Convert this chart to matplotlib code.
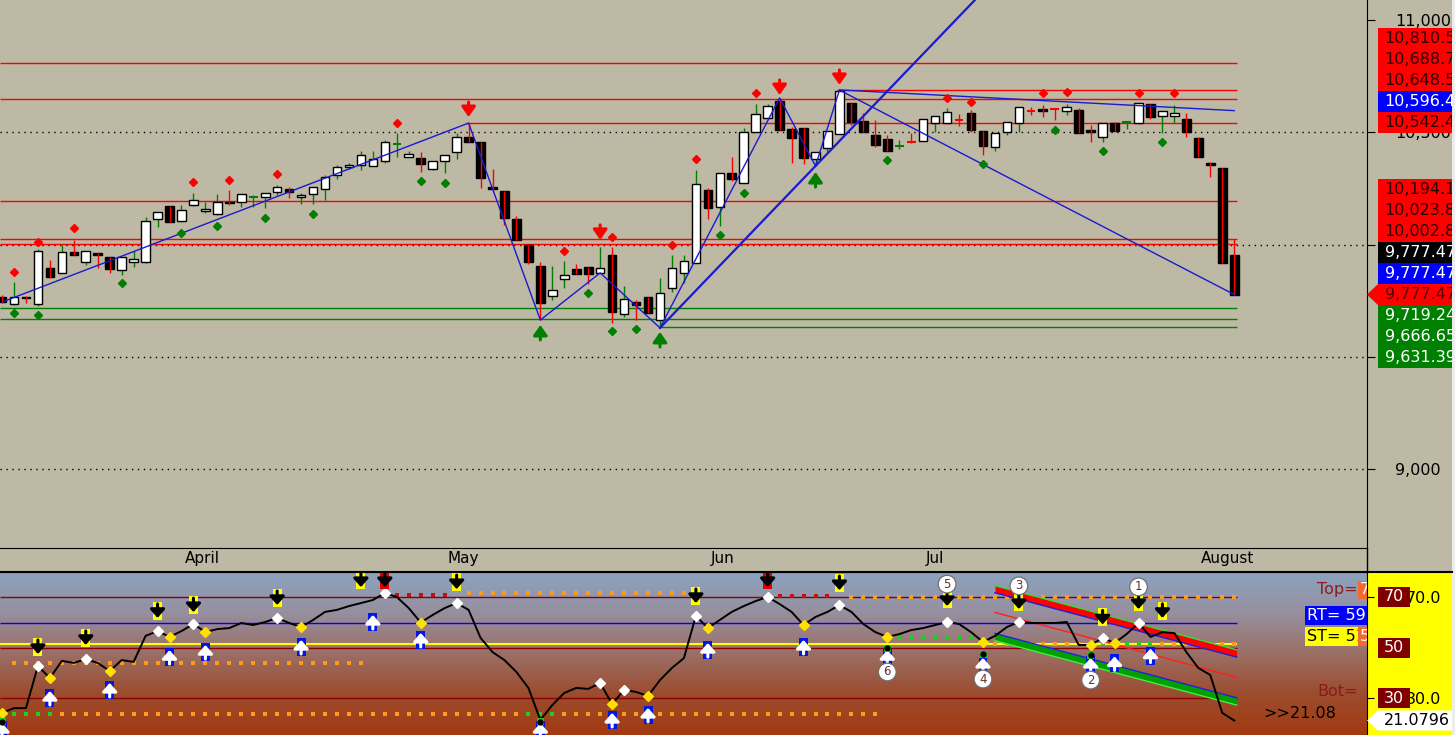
import numpy as np
import matplotlib.pyplot as plt
from matplotlib.patches import Rectangle, Polygon
from matplotlib.lines import Line2D
from matplotlib.colors import LinearSegmentedColormap

plt.rcParams['font.family'] = ['DejaVu Sans']

# daily candles, one per trading day
opens = [9767, 9735, 9767, 9735, 9896, 9874, 9967, 9923, 9963, 9945,
         9887, 9923, 9923, 10114, 10172, 10105, 10176, 10150, 10136, 10190,
         10190, 10210, 10212, 10234, 10248, 10212, 10225, 10248, 10310, 10346,
         10354, 10350, 10372, 10446, 10390, 10386, 10337, 10372, 10412, 10479,
         10457, 10256, 10239, 10114, 9998, 9905, 9771, 9847, 9891, 9900,
         9874, 9954, 9691, 9744, 9767, 9664, 9807, 9874, 9918, 10243,
         10167, 10319, 10274, 10501, 10564, 10639, 10515, 10519, 10381, 10430,
         10492, 10630, 10550, 10488, 10470, 10439, 10457, 10461, 10541, 10541,
         10555, 10586, 10506, 10435, 10501, 10541, 10595, 10604, 10604, 10595,
         10599, 10510, 10479, 10541, 10544, 10541, 10626, 10573, 10573, 10559,
         10475, 10363, 10341, 9954]
highs = [9776, 9834, 9771, 9980, 9932, 9998, 10021, 9972, 9963, 9945,
         9945, 9972, 10123, 10145, 10172, 10176, 10230, 10190, 10225, 10243,
         10225, 10221, 10230, 10265, 10256, 10230, 10256, 10310, 10354, 10363,
         10417, 10417, 10466, 10497, 10417, 10412, 10372, 10399, 10497, 10541,
         10457, 10337, 10239, 10127, 9998, 9923, 9905, 9927, 9914, 9900,
         9989, 9989, 9816, 9753, 9767, 9851, 9954, 9954, 10332, 10252,
         10319, 10390, 10519, 10626, 10626, 10653, 10524, 10519, 10412, 10506,
         10688, 10630, 10586, 10555, 10488, 10466, 10497, 10559, 10573, 10608,
         10581, 10599, 10506, 10497, 10546, 10613, 10613, 10622, 10604, 10626,
         10608, 10533, 10541, 10546, 10550, 10630, 10626, 10595, 10622, 10586,
         10479, 10368, 10341, 10025]
lows = [9740, 9731, 9740, 9727, 9851, 9874, 9954, 9909, 9896, 9874,
        9865, 9900, 9918, 10078, 10101, 10101, 10172, 10141, 10132, 10176,
        10167, 10167, 10163, 10221, 10208, 10181, 10181, 10199, 10292, 10337,
        10332, 10350, 10363, 10390, 10390, 10323, 10332, 10319, 10381, 10457,
        10252, 10243, 10087, 10021, 9914, 9664, 9753, 9807, 9869, 9825,
        9874, 9651, 9678, 9664, 9695, 9629, 9789, 9829, 9918, 10114,
        10083, 10283, 10274, 10501, 10564, 10510, 10363, 10359, 10350, 10412,
        10492, 10533, 10501, 10435, 10417, 10426, 10452, 10461, 10501, 10541,
        10528, 10501, 10399, 10417, 10488, 10501, 10577, 10568, 10555, 10577,
        10497, 10457, 10457, 10506, 10515, 10541, 10559, 10497, 10541, 10479,
        10390, 10301, 9918, 9777.47]
closes = [9744, 9767, 9760, 9972, 9856, 9967, 9954, 9972, 9954, 9891,
          9945, 9936, 10105, 10145, 10101, 10154, 10199, 10159, 10190, 10185,
          10225, 10214, 10230, 10256, 10234, 10221, 10256, 10301, 10346, 10354,
          10399, 10381, 10457, 10450, 10403, 10359, 10372, 10399, 10479, 10457,
          10297, 10248, 10118, 10021, 9923, 9740, 9798, 9865, 9869, 9869,
          9896, 9700, 9758, 9731, 9695, 9785, 9896, 9927, 10270, 10163,
          10319, 10292, 10501, 10581, 10617, 10510, 10475, 10386, 10412, 10506,
          10684, 10546, 10501, 10443, 10417, 10441, 10455, 10559, 10573, 10590,
          10553, 10510, 10439, 10497, 10546, 10613, 10593, 10595, 10602, 10613,
          10497, 10501, 10541, 10506, 10546, 10630, 10568, 10595, 10586, 10501,
          10390, 10354, 9918, 9777.47]

month_names = ['April', 'May', 'Jun', 'Jul', 'August']
month_start = [15, 37, 59, 77, 100]

# zigzag + trend lines
zig_idx = [0, 39, 45, 50, 55, 65, 68, 70, 103]
zig_val = [9744, 10541, 9664, 9874, 9629, 10653, 10350, 10688, 9777.47]
trend_idx = [55, 68]
trend_val = [9629, 10350]
flat_idx = [70, 103]
flat_val = [10688.7, 10596.4]

# support / resistance levels and the bar where each starts
res_levels = [10810.5, 10688.7, 10648.5, 10542.4, 10194.1, 10023.8, 10002.8]
res_from = [0, 70, 0, 39, 0, 0, 0]
sup_levels = [9719.24, 9666.65, 9631.39]
sup_from = [0, 0, 55]

# fractal dots
top_dot_idx = [1, 3, 6, 16, 19, 23, 33, 47, 51, 56, 58, 63, 79, 81, 87, 89, 95, 98]
top_dot_val = [9878, 10012, 10074, 10279, 10288, 10314, 10541, 9972, 10034, 9998,
               10381, 10675, 10653, 10635, 10675, 10679, 10675, 10675]
bot_dot_idx = [1, 3, 10, 15, 18, 22, 26, 35, 37, 49, 51, 53, 60, 62, 74, 82, 88, 92, 97]
bot_dot_val = [9695, 9687, 9829, 10052, 10083, 10118, 10136, 10283, 10274, 9785,
               9615, 9624, 10043, 10230, 10377, 10359, 10510, 10417, 10457]

# pivot arrows (tip prices)
dn_idx = [39, 50, 65, 70]
dn_tip = [10568, 10021, 10666, 10711]
up_idx = [45, 55, 68]
up_tip = [9642, 9611, 10323]

# right-hand price tags
tags_hi = ['10,810.5', '10,688.7', '10,648.5', '10,596.4', '10,542.4']
tags_hi_col = ['red', 'red', 'red', 'blue', 'red']
tags_lo = ['10,194.1', '10,023.8', '10,002.8', '9,777.47', '9,777.47', '9,777.47',
           '9,719.24', '9,666.65', '9,631.39']
tags_lo_col = ['red', 'red', 'red', 'black', 'blue', 'last', 'green', 'green', 'green']

# oscillator
rsi = [24.1, 26.0, 26.0, 42.7, 37.9, 44.7, 43.9, 45.4, 43.9, 40.7,
       45.0, 44.3, 54.6, 56.5, 54.2, 56.5, 59.3, 56.1, 57.3, 57.7,
       59.7, 58.9, 60.1, 61.7, 59.7, 58.1, 60.9, 64.1, 64.9, 66.4,
       67.6, 68.8, 71.6, 70.0, 65.6, 59.9, 62.9, 65.6, 67.6, 64.9,
       53.8, 48.2, 45.0, 40.3, 34.0, 21.3, 27.2, 32.0, 34.0, 33.6,
       35.9, 27.6, 33.2, 32.4, 30.8, 37.1, 41.9, 45.8, 62.5, 57.7,
       60.9, 64.1, 66.4, 68.4, 70.0, 67.2, 64.1, 58.9, 62.1, 64.1,
       66.8, 64.1, 59.3, 56.1, 54.2, 55.3, 56.9, 57.7, 58.9, 60.1,
       59.3, 56.1, 52.2, 54.6, 58.1, 60.1, 59.7, 59.7, 59.7, 60.1,
       51.0, 51.0, 53.8, 51.8, 55.3, 59.7, 54.2, 56.1, 55.7, 48.2,
       41.9, 39.1, 24.1, 21.0796]
rt_level = 59.7
st_level = 51.4
peak_idx = [3, 7, 13, 16, 23, 32, 38, 50, 52, 58, 64, 70, 79, 85, 92, 95]
trough_idx = [0, 4, 9, 14, 17, 25, 35, 51, 54, 59, 67, 74, 82, 91, 93]
sell_idx = [3, 7, 13, 16, 23, 30, 32, 38, 58, 64, 70, 79, 85, 92, 95, 97]
sell_val = [50.2, 53.8, 64.5, 66.8, 69.6, 76.7, 76.7, 75.9, 70.4, 76.7, 75.5, 69.2, 68.0, 61.9, 68.0, 64.5]
sell_alert = [32, 64]
buy_idx = [0, 4, 9, 14, 17, 25, 31, 35, 45, 51, 54, 59, 67, 74, 82, 91, 93, 96]
buy_val = [17.3, 30.0, 33.2, 46.2, 48.2, 50.2, 60.1, 53.0, 17.3, 21.3, 23.3, 49.0, 50.2, 46.2, 43.1, 43.1, 43.7, 46.8]
conf_idx = [0, 45, 74, 82, 91]
conf_val = [20.5, 20.5, 49.8, 47.4, 47.0]
wave_lbl = ['5', '3', '1', '6', '4', '2']
wave_idx = [79, 85, 95, 74, 82, 91]
wave_val = [75.1, 74.4, 74.0, 40.3, 37.5, 37.1]
chan_idx = [83, 103.2]
red_band_top = [74.5, 49.1]
red_band_bot = [71.7, 46.2]
red_mid = [63.9, 38.2]
grn_band_top = [55.6, 30.1]
grn_band_bot = [52.7, 27.2]
dot_runs = [(1, 30, 44.0, '#FF9A1A'), (0, 4, 23.7, '#22CC22'), (5, 73, 23.7, '#FF9A1A'),
            (44, 46, 23.7, '#22CC22'), (33, 37, 70.6, '#C01010'), (39, 57, 71.5, '#FF9A1A'),
            (65, 69, 70.2, '#C01010'), (71, 103, 70.0, '#FF9A1A'), (75, 81, 53.9, '#22CC22'),
            (82, 103, 51.2, '#FF9A1A'), (91, 96, 51.2, '#22CC22')]

# ---------------- layout ----------------
W, H = 1455, 735
BG = '#BDB9A5'
fig = plt.figure(figsize=(W / 100, H / 100), dpi=100, facecolor=BG)


def px_axes(l, t, r, b):
    return fig.add_axes([l / W, 1 - b / H, (r - l) / W, (b - t) / H])


ax = px_axes(0, 0, 1367, 548)
ax_lab = px_axes(1367, 0, 1452, 548)
ax2 = px_axes(0, 572, 1367, 735)
ax2_lab = px_axes(1367, 572, 1452, 735)

xlo, xhi = -0.17, 114.1
ylo, yhi = 8649, 11089
ppx = (yhi - ylo) / 548.0
vlo, vhi = 15.35, 79.9
vpx = (vhi - vlo) / 163.0

fig.add_artist(Rectangle((1367 / W, 0), 85 / W, 163 / H, transform=fig.transFigure,
                         fc='#FFFF00', ec='none', zorder=-1))
fig.add_artist(Rectangle((1452 / W, 0), 3 / W, 1, transform=fig.transFigure,
                         fc='#EDEDED', ec='none', zorder=5))
fig.add_artist(Line2D([0, 1452 / W], [163 / H, 163 / H], transform=fig.transFigure,
                      color='black', lw=1.5, zorder=5))
fig.add_artist(Line2D([1367 / W, 1367 / W], [163 / H, 187 / H], transform=fig.transFigure,
                      color='black', lw=1, zorder=5))

# ---------------- price panel ----------------
ax.set_facecolor(BG)
ax.set_xlim(xlo, xhi)
ax.set_ylim(ylo, yhi)
for s in ('left', 'top'):
    ax.spines[s].set_visible(False)
ax.yaxis.tick_right()
yt = [9000, 9500, 10000, 10500, 11000]
# 9,500 and 10,000 sit under the price tags, so they are left blank
ax.set_yticks(yt, ['9,000', '', '', '10,500', '11,000'])
ax.tick_params(axis='y', direction='out', length=6, pad=14, labelsize=11.5)
ax.set_xticks(np.array(month_start) + 0.25, month_names)
ax.tick_params(axis='x', length=0, pad=2, labelsize=11)
for t in ax.get_xticklabels():
    t.set_ha('left')
for v in yt[:-1]:
    ax.axhline(v, color='black', lw=1, ls=(0, (1, 3.3)), zorder=1)

for lev, st in zip(res_levels, res_from):
    ax.hlines(lev, st - 0.2 if st else xlo, 103.2, color='red', lw=1, zorder=2)
for lev, st in zip(sup_levels, sup_from):
    ax.hlines(lev, st if st else xlo, 103.2, color='#008000', lw=1, zorder=2)

o, hi, lo, c = (np.array(a, float) for a in (opens, highs, lows, closes))
x = np.arange(len(o))
doji = np.abs(c - o) < 5
up = c >= o
bw = 0.72
m = up & ~doji
ax.vlines(x[m], lo[m], hi[m], color='#008000', lw=1, zorder=3)
ax.bar(x[m], c[m] - o[m], bottom=o[m], width=bw, facecolor='white', edgecolor='black', lw=1, zorder=4)
m = ~up & ~doji
ax.bar(x[m], c[m] - o[m], bottom=o[m], width=bw, facecolor='black', edgecolor='black', lw=1, zorder=4)
ax.vlines(x[m], lo[m], hi[m], color='red', lw=1, zorder=5)
for flag, col in ((up & doji, '#008000'), (~up & doji, 'red')):
    ax.vlines(x[flag], lo[flag], hi[flag], color=col, lw=1, zorder=5)
    ax.hlines(c[flag], x[flag] - bw / 2, x[flag] + bw / 2, color=col, lw=1.5, zorder=5)

ax.plot(zig_idx, zig_val, color='#1A1AD0', lw=1, zorder=6)
k = (trend_val[1] - trend_val[0]) / (trend_idx[1] - trend_idx[0])
tx = np.array([trend_idx[0], 90])
ax.plot(tx, trend_val[0] + k * (tx - trend_idx[0]), color='#1A1AD0', lw=1.6, zorder=6)
ax.plot(flat_idx, flat_val, color='#1A1AD0', lw=1, zorder=6)

ax.plot(top_dot_idx, top_dot_val, 'D', color='red', ms=4.5, zorder=7)
ax.plot(bot_dot_idx, bot_dot_val, 'D', color='#008000', ms=4.5, zorder=7)
for i, v in zip(dn_idx, dn_tip):
    ax.annotate('', xy=(i, v), xytext=(i, v + 15 * ppx),
                arrowprops=dict(arrowstyle='-|>,head_length=0.5,head_width=0.35', color='red',
                                lw=2.2, shrinkA=0, shrinkB=0, mutation_scale=12), zorder=8)
for i, v in zip(up_idx, up_tip):
    ax.annotate('', xy=(i, v), xytext=(i, v - 15 * ppx),
                arrowprops=dict(arrowstyle='-|>,head_length=0.5,head_width=0.35', color='#008000',
                                lw=2.2, shrinkA=0, shrinkB=0, mutation_scale=12), zorder=8)

# price tags on the right
ax_lab.set_xlim(0, 85)
ax_lab.set_ylim(ylo, yhi)
ax_lab.axis('off')
th = 21 * ppx
tag_style = {'red': ('red', '#2A0000'), 'blue': ('#0000FF', 'white'), 'black': ('black', 'white'),
             'green': ('#008000', 'white'), 'last': ('red', '#5A0000')}


def draw_tags(labels, cols, anchor_i, anchor_v):
    for kk, (s, cc) in enumerate(zip(labels, cols)):
        yc = anchor_v + (anchor_i - kk) * th
        fc, tc = tag_style[cc]
        if cc == 'last':
            ax_lab.add_patch(Polygon([(0, yc), (11, yc + th / 2), (90, yc + th / 2),
                                      (90, yc - th / 2), (11, yc - th / 2)], fc=fc, ec='none'))
        else:
            ax_lab.add_patch(Rectangle((11, yc - th / 2), 80, th, fc=fc, ec='none'))
        ax_lab.text(17.5, yc, s, color=tc, fontsize=11.5, va='center', ha='left', clip_on=True)


draw_tags(tags_hi, tags_hi_col, len(tags_hi) - 1, 10542.4)
draw_tags(tags_lo, tags_lo_col, 5, closes[-1])

# ---------------- oscillator panel ----------------
ax2.set_xlim(xlo, xhi)
ax2.set_ylim(vlo, vhi)
grad = LinearSegmentedColormap.from_list('bg', ['#8CA3C0', '#978F9E', '#9B6F66', '#9C4C2E', '#A23A10'])
ax2.imshow(np.linspace(0, 1, 256).reshape(-1, 1), cmap=grad, aspect='auto',
           extent=[xlo, xhi, vlo, vhi], origin='upper', zorder=0)
for s in ('left', 'bottom'):
    ax2.spines[s].set_visible(False)
ax2.set_xticks([])
ax2.yaxis.tick_right()
ax2.set_yticks([30, 70], ['30.0', '70.0'])
ax2.tick_params(axis='y', direction='out', length=5, pad=23, labelsize=11.5)

for lev, col, lw in [(70, '#8B0000', 1), (30, '#8B0000', 1), (50, '#8B0000', 1),
                     (rt_level, '#0000FF', 1), (st_level, '#FFFF00', 1.5)]:
    ax2.hlines(lev, xlo, 103.2, color=col, lw=lw, zorder=1)
for a, b, lev, col in dot_runs:
    xs = np.arange(a, b + 1)
    ax2.plot(xs, np.full(len(xs), lev), 's', color=col, ms=2.2, mew=0, zorder=2)

ax2.fill_between(chan_idx, red_band_bot, red_band_top, color='#FF0000', lw=0, zorder=3)
ax2.plot(chan_idx, red_band_top, color='#33DD33', lw=1, zorder=3)
ax2.plot(chan_idx, red_band_bot, color='#2020E0', lw=1, zorder=3)
ax2.plot(chan_idx, red_mid, color='#FF2020', lw=1, zorder=3)
ax2.fill_between(chan_idx, grn_band_bot, grn_band_top, color='#00A000', lw=0, zorder=3)
ax2.plot(chan_idx, grn_band_top, color='#2020E0', lw=1, zorder=3)
ax2.plot(chan_idx, grn_band_bot, color='#44EE44', lw=1, zorder=3)

ax2.plot(np.arange(len(rsi)), rsi, color='black', lw=1.4, zorder=4)
r = np.array(rsi)
ax2.plot(peak_idx, r[peak_idx], 'D', color='white', ms=4.8, zorder=5)
ax2.plot(trough_idx, r[trough_idx], 'D', color='#FFE000', ms=4.8, zorder=5)

bxw, bxh = 0.75, 18 * vpx


def boxed_arrow(i, v, face, col, down):
    ax2.add_patch(Rectangle((i - bxw / 2, v - bxh / 2), bxw, bxh, fc=face, ec='none', zorder=6))
    a0, a1 = (v + 7 * vpx, v - 7 * vpx) if down else (v - 7 * vpx, v + 7 * vpx)
    ax2.annotate('', xy=(i, a1), xytext=(i, a0),
                 arrowprops=dict(arrowstyle='-|>,head_length=0.45,head_width=0.4', color=col,
                                 lw=2.2, shrinkA=0, shrinkB=0, mutation_scale=11), zorder=7)


for i, v in zip(sell_idx, sell_val):
    boxed_arrow(i, v, '#E00000' if i in sell_alert else '#FFFF00', 'black', True)
for i, v in zip(buy_idx, buy_val):
    boxed_arrow(i, v, '#0018E0', 'white', False)
for i, v in zip(conf_idx, conf_val):
    ax2.add_patch(Rectangle((i - 0.3, v - 3.5 * vpx), 0.6, 7 * vpx, fc='#20C020', ec='none', zorder=6))
    ax2.plot(i, v, 'o', color='black', ms=3.5, zorder=7)
for s, i, v in zip(wave_lbl, wave_idx, wave_val):
    ax2.text(i, v, s, fontsize=8.5, color='#603030', ha='center', va='center', zorder=8,
             bbox=dict(boxstyle='circle,pad=0.2', fc='white', ec='#707070', lw=0.9))

ax2.text(113.3, 72.8, 'Top=', color='#8B1A1A', fontsize=11.5, ha='right', va='center', clip_on=True)
ax2.text(113.5, 72.8, '7', color='white', fontsize=11.5, ha='left', va='center', clip_on=True,
         bbox=dict(boxstyle='square,pad=0.1', fc='#F26A30', ec='none'))
ax2.text(109.1, 62.6, 'RT= 59', color='white', fontsize=11.5, ha='left', va='center', clip_on=True,
         bbox=dict(boxstyle='square,pad=0.12', fc='#0000FF', ec='none'))
ax2.text(109.1, 54.3, 'ST= 51', color='black', fontsize=11.5, ha='left', va='center', clip_on=True,
         bbox=dict(boxstyle='square,pad=0.12', fc='#FFFF00', ec='none'))
ax2.text(113.5, 54.3, '5', color='white', fontsize=11.5, ha='left', va='center', clip_on=True,
         bbox=dict(boxstyle='square,pad=0.12', fc='#F26A30', ec='none'))
ax2.text(113.3, 32.4, 'Bot=', color='#8B1A1A', fontsize=11.5, ha='right', va='center', clip_on=True)
ax2.text(105.4, 23.7, f'>>{rsi[-1]:.2f}', color='black', fontsize=11.5, ha='left', va='center')

ax2_lab.set_xlim(0, 85)
ax2_lab.set_ylim(vlo, vhi)
ax2_lab.axis('off')
lh = 20 * vpx
for lev in (70, 50, 30):
    ax2_lab.add_patch(Rectangle((11, lev - lh / 2), 32, lh, fc='#800000', ec='none'))
    ax2_lab.text(27, lev, str(lev), color='white', fontsize=11.5, ha='center', va='center')
yc = rsi[-1]
ax2_lab.add_patch(Polygon([(0, yc), (11, yc + lh / 2), (90, yc + lh / 2), (90, yc - lh / 2),
                           (11, yc - lh / 2)], fc='white', ec='none'))
ax2_lab.text(17, yc, f'{rsi[-1]:.4f}', color='black', fontsize=11.5, ha='left', va='center', clip_on=True)

fig.savefig('out.png', dpi=100, facecolor=fig.get_facecolor())
